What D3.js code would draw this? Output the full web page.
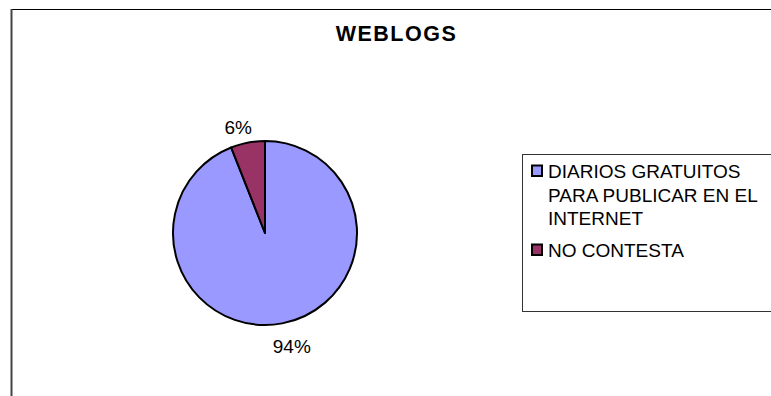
<!DOCTYPE html>
<html>
<head>
<meta charset="utf-8">
<script src="https://cdn.jsdelivr.net/npm/d3@7"></script>
<style>
  html, body { margin: 0; padding: 0; background: #fff; }
  svg { display: block; }
  text { font-family: "Liberation Sans", Arial, sans-serif; }
</style>
</head>
<body>
<div id="chart"></div>
<script>
const title = "WEBLOGS";
const categories = ["DIARIOS GRATUITOS PARA PUBLICAR EN EL INTERNET", "NO CONTESTA"];
const legendLines = [["DIARIOS GRATUITOS", "PARA PUBLICAR EN EL", "INTERNET"], ["NO CONTESTA"]];
const values = [94, 6];
const labels = ["94%", "6%"];
const colors = ["#9999FF", "#993366"];

const W = 771, H = 396;
const svg = d3.select("#chart").append("svg").attr("width", W).attr("height", H);

// outer chart border (top and left visible)
svg.append("line").attr("x1", 11).attr("x2", W).attr("y1", 9.5).attr("y2", 9.5)
  .attr("stroke", "#000").attr("stroke-width", 1);
svg.append("line").attr("x1", 11.5).attr("x2", 11.5).attr("y1", 9).attr("y2", H)
  .attr("stroke", "#444").attr("stroke-width", 2);

// title
svg.append("text").attr("x", 396.5).attr("y", 41)
  .attr("text-anchor", "middle").attr("font-size", 21.5).attr("font-weight", "bold")
  .attr("letter-spacing", 1.5)
  .text(title);

// pie
const cx = 265, cy = 233, r = 92;
const pie = d3.pie().sort(null).value(d => d);
const arcs = pie(values);
const arc = d3.arc().innerRadius(0).outerRadius(r);
const g = svg.append("g").attr("transform", `translate(${cx},${cy})`);
g.selectAll("path").data(arcs).enter().append("path")
  .attr("d", arc)
  .attr("fill", (d, i) => colors[i])
  .attr("stroke", "#000").attr("stroke-width", 2).attr("stroke-linejoin", "round");

const labelR = 111;
g.selectAll("text.lbl").data(arcs).enter().append("text")
  .attr("class", "lbl")
  .attr("x", d => { const a = (d.startAngle + d.endAngle) / 2; const x = Math.sin(a) * labelR; return x + Math.sign(x) * 6; })
  .attr("y", d => { const a = (d.startAngle + d.endAngle) / 2; return -Math.cos(a) * labelR + 4; })
  .attr("text-anchor", "middle").attr("dominant-baseline", "central")
  .attr("font-size", 19)
  .text((d, i) => labels[i]);

// legend
svg.append("rect").attr("x", 522.5).attr("y", 154.5).attr("width", 300).attr("height", 157)
  .attr("fill", "none").attr("stroke", "#333").attr("stroke-width", 1);
const legendTop = [178, 257];
categories.forEach((c, i) => {
  svg.append("rect").attr("x", 532).attr("y", legendTop[i] - 12.5).attr("width", 10).attr("height", 10.5)
    .attr("fill", colors[i]).attr("stroke", "#000").attr("stroke-width", 2);
  const t = svg.append("text").attr("x", 548).attr("y", legendTop[i]).attr("font-size", 19);
  legendLines[i].forEach((ln, j) => {
    t.append("tspan").attr("x", 548).attr("y", legendTop[i] + j * 23.6).text(ln);
  });
});
</script>
</body>
</html>
